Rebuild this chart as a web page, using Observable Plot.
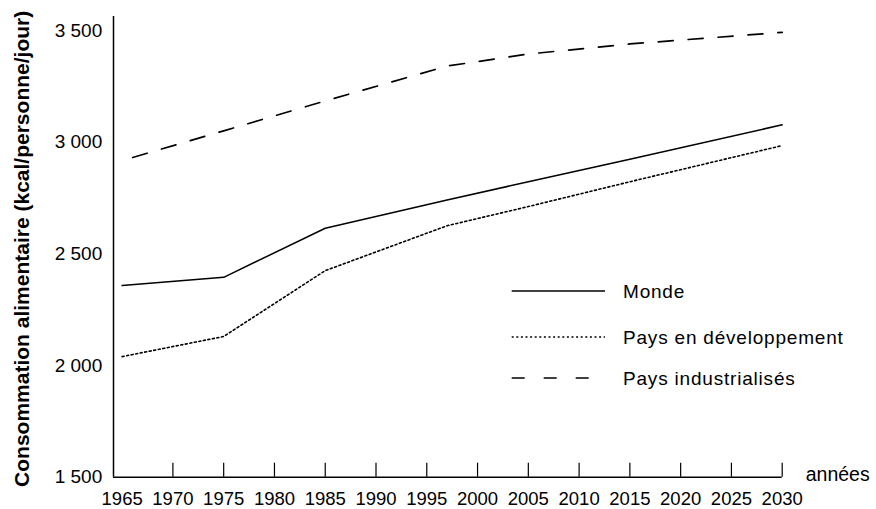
<!DOCTYPE html>
<html>
<head>
<meta charset="utf-8">
<script src="https://cdn.jsdelivr.net/npm/d3@7"></script>
<script src="https://cdn.jsdelivr.net/npm/@observablehq/plot@0.6"></script>
<style>
  html, body { margin: 0; padding: 0; background: #fff; }
  #wrap { position: relative; width: 876px; height: 509px; font-family: "Liberation Sans", Arial, Helvetica, sans-serif; }
  #wrap svg { font-family: "Liberation Sans", Arial, Helvetica, sans-serif; }
  #legend { position: absolute; left: 0; top: 0; pointer-events: none; }
</style>
</head>
<body>
<div id="wrap"></div>
<script>
// ---- data ----
const years = [1965, 1975, 1985, 1997, 2005, 2015, 2030];
const monde = [2358, 2395, 2615, 2741, 2823, 2924, 3078];
const developpement = [2040, 2130, 2425, 2626, 2712, 2823, 2985];
const industrialises = [2918, 3051, 3185, 3341, 3395, 3440, 3492];
const seriesNames = ["Monde", "Pays en développement", "Pays industrialisés"];

const xTickYears = [1965, 1970, 1975, 1980, 1985, 1990, 1995, 2000, 2005, 2010, 2015, 2020, 2025, 2030];
const xTickMarks = [1970, 1975, 1980, 1985, 1990, 1995, 2000, 2005, 2010, 2015, 2020, 2025, 2030];
const yTicks = [1500, 2000, 2500, 3000, 3500];
const yTickLabels = ["1 500", "2 000", "2 500", "3 000", "3 500"];
const yTitle = "Consommation alimentaire (kcal/personne/jour)";
const xTitle = "années";

const xDomain = [1964.15, 2030];
const yDomain = [1500, 3563];

const rows = [];
years.forEach((y, i) => {
  rows.push({year: y, value: monde[i], serie: seriesNames[0]});
  rows.push({year: y, value: developpement[i], serie: seriesNames[1]});
  rows.push({year: y, value: industrialises[i], serie: seriesNames[2]});
});

const styles = {
  "Monde": {dash: null, width: 1.5, offset: 0},
  "Pays en développement": {dash: "2,2.6", width: 1.6, offset: 0},
  "Pays industrialisés": {dash: "15,15", width: 1.7, offset: 19}
};

const ink = "#000";

const chart = Plot.plot({
  width: 876,
  height: 509,
  marginLeft: 113,
  marginRight: 94.3,
  marginTop: 16,
  marginBottom: 32.3,
  style: {fontFamily: '"Liberation Sans", Arial, sans-serif', background: "#fff", color: ink},
  x: {domain: xDomain, type: "linear"},
  y: {domain: yDomain, type: "linear"},
  marks: [
    // y labels
    Plot.axisY(yTicks, {tickSize: 0, tickPadding: 11.3, fontSize: 19, tickFormat: d => yTickLabels[yTicks.indexOf(d)], label: null}),
    // x labels
    Plot.axisX(xTickYears, {tickSize: 0, tickPadding: 14.5, fontSize: 18.5, tickFormat: d => String(d), label: null}),
    // x inner tick marks
    Plot.axisX(xTickMarks, {tickSize: -14, tickFormat: () => "", label: null, stroke: ink, strokeWidth: 1.2}),
    // axis lines
    Plot.ruleX([xDomain[0]], {stroke: ink, strokeWidth: 1.5}),
    Plot.ruleY([yDomain[0]], {stroke: ink, strokeWidth: 1.5}),
    // series
    ...seriesNames.map(name => Plot.line(rows.filter(r => r.serie === name), {
      x: "year", y: "value",
      stroke: ink,
      strokeWidth: styles[name].width,
      strokeDasharray: styles[name].dash,
      strokeDashoffset: styles[name].offset
    })),
    // titles
    Plot.text([yTitle], {frameAnchor: "left", rotate: -90, dx: -91, dy: 2, fontSize: 21, fontWeight: "bold", fill: ink, textAnchor: "middle"}),
    Plot.text([xTitle], {frameAnchor: "bottom-right", dx: 23.5, dy: -2, fontSize: 19.5, fill: ink, textAnchor: "start", lineAnchor: "middle"})
  ]
});

const wrap = document.getElementById("wrap");
wrap.appendChild(chart);

// legend overlay
const legendRows = [291, 337, 378];
const svg = d3.select(wrap).append("svg")
  .attr("id", "legend")
  .attr("width", 876).attr("height", 509);
seriesNames.forEach((name, i) => {
  const st = styles[name];
  const isDash = name === "Pays industrialisés";
  svg.append("line")
    .attr("x1", 511.7).attr("x2", isDash ? 590 : 605)
    .attr("y1", legendRows[i]).attr("y2", legendRows[i])
    .attr("stroke", ink)
    .attr("stroke-width", st.width)
    .attr("stroke-dasharray", isDash ? "13,19" : st.dash);
  svg.append("text")
    .attr("x", 623).attr("y", legendRows[i])
    .attr("dy", "0.35em")
    .attr("font-size", 19)
    .attr("letter-spacing", "0.8px")
    .attr("fill", ink)
    .text(name);
});
</script>
</body>
</html>
